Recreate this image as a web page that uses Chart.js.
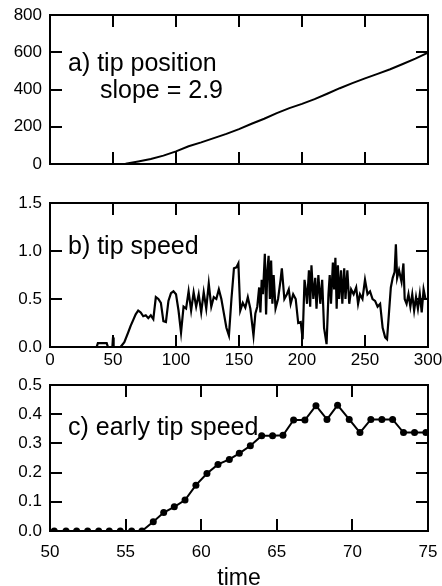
<!DOCTYPE html>
<html>
<head>
<meta charset="utf-8">
<script src="https://cdn.jsdelivr.net/npm/chart.js@4.4.0/dist/chart.umd.min.js"></script>
<style>
  html, body { margin: 0; padding: 0; background: #fff; }
  #wrap { position: relative; width: 442px; height: 586px; overflow: hidden; }
  #wrap canvas { position: absolute; left: 0; }
</style>
</head>
<body>
<div id="wrap">
  <canvas id="cvA" width="442" height="175" style="top:0px"></canvas>
  <canvas id="cvB" width="442" height="192" style="top:180px"></canvas>
  <canvas id="cvC" width="442" height="214" style="top:372px"></canvas>
</div>
<script>
/***** data *****/
// a) tip position vs time
const posTime  = [0, 56, 60, 70, 80, 90, 100, 110, 120, 130, 140, 150, 160, 170, 180, 190, 200, 210, 220, 230, 240, 250, 260, 270, 280, 290, 300];
const posValue = [0, 0, 2, 14, 27, 45, 68, 95, 116, 139, 162, 187, 216, 243, 273, 300, 323, 348, 377, 407, 434, 460, 484, 509, 537, 566, 598];

// b) tip speed vs time
const speedTime = [
  0, 37, 38, 45, 46, 49.5, 50, 50.5, 56, 59, 62, 64, 66, 68, 70, 72, 74, 76, 78, 80,
  82, 84, 86, 88, 90, 92, 94, 96, 98, 100, 102, 104, 106, 108, 110, 112, 114, 116, 118, 120,
  122, 124, 126, 128, 130, 132, 134, 136, 138, 140, 142, 144, 146, 148, 149.5, 151, 153, 155, 157, 159,
  161.5, 163, 164.5, 166, 167, 168, 169, 170.5, 171.5, 172.5, 173.5, 174.5, 175.5, 176.5, 177.5, 179, 181, 183, 184, 186,
  188, 189.5, 191, 193, 195, 197, 199, 200.5, 202, 203, 204, 205.5, 206.5, 207.5, 209, 210.5, 211.5, 213, 214.5, 216,
  217.5, 219.5, 221, 222, 223, 224.5, 225.5, 226.5, 227.5, 228.5, 229.5, 231, 232, 233.5, 234.5, 236, 237.5, 239, 241, 243,
  244.5, 246, 248, 250, 252, 254, 256, 258, 260, 262, 264, 266, 267.5, 269, 270.5, 272, 273.5, 274.5, 275.5, 277,
  279, 280.5, 281.5, 283, 284.5, 286, 287.5, 289, 290.5, 292, 293.5, 295, 296.5, 298, 300
];
const speedValue = [
  0, 0, 0.04, 0.04, 0, 0, 0.1, 0, 0, 0.05, 0.15, 0.22, 0.28, 0.34, 0.38, 0.36, 0.32, 0.33, 0.3, 0.33,
  0.29, 0.52, 0.5, 0.46, 0.27, 0.26, 0.48, 0.56, 0.58, 0.55, 0.38, 0.15, 0.42, 0.4, 0.58, 0.38, 0.57, 0.42, 0.55, 0.36,
  0.57, 0.4, 0.66, 0.42, 0.52, 0.5, 0.6, 0.5, 0.35, 0.2, 0.12, 0.5, 0.82, 0.83, 0.87, 0.38, 0.46, 0.41, 0.52, 0.4,
  0.12, 0.35, 0.42, 0.62, 0.36, 0.7, 0.55, 0.97, 0.34, 0.8, 0.95, 0.5, 0.9, 0.45, 0.75, 0.4, 0.5, 0.7, 0.82, 0.5,
  0.55, 0.6, 0.45, 0.55, 0.5, 0.25, 0.26, 0.08, 0.7, 0.6, 0.45, 0.8, 0.42, 0.85, 0.5, 0.72, 0.4, 0.75, 0.45, 0.7,
  0.2, 0.03, 0.55, 0.75, 0.45, 0.88, 0.6, 0.93, 0.4, 0.85, 0.5, 0.8, 0.45, 0.82, 0.5, 0.8, 0.45, 0.6, 0.55, 0.62,
  0.45, 0.55, 0.5, 0.7, 0.55, 0.58, 0.5, 0.48, 0.42, 0.45, 0.2, 0.1, 0.08, 0.35, 0.62, 0.72, 0.78, 1.07, 0.72, 0.8,
  0.68, 0.87, 0.5, 0.45, 0.55, 0.42, 0.55, 0.38, 0.52, 0.4, 0.55, 0.36, 0.6, 0.5, 0.5
];

// c) early tip speed (sampled points)
const earlyTime = [
  50.28, 51.06, 51.76, 52.49, 53.22, 53.92, 54.65, 55.40, 56.08, 56.83,
  57.52, 58.22, 58.93, 59.65, 60.38, 61.11, 61.86, 62.52, 63.25, 64.00,
  64.72, 65.41, 66.11, 66.86, 67.59, 68.32, 69.02, 69.79, 70.50, 71.22,
  71.95, 72.66, 73.38, 74.11, 74.86
];
const earlySpeed = [
  0, 0, 0, 0, 0, 0, 0, 0, 0, 0.032,
  0.063, 0.083, 0.106, 0.157, 0.197, 0.228, 0.245, 0.266, 0.292, 0.326,
  0.326, 0.328, 0.38, 0.38, 0.429, 0.382, 0.431, 0.382, 0.337, 0.382,
  0.382, 0.382, 0.337, 0.337, 0.337
];

/***** settings *****/
const FONT = "'Liberation Sans', Arial, Helvetica, sans-serif";
const TICK_LEN = 12;
Chart.defaults.font.family = FONT;
Chart.defaults.font.size = 17;
Chart.defaults.color = "#000";

const toXY = (xs, ys) => xs.map((x, i) => ({ x, y: ys[i] }));

// inward tick marks: Chart.js draws them itself when tickLength is negative
const inwardGrid = {
  display: true,
  drawOnChartArea: false,
  drawTicks: true,
  tickLength: -TICK_LEN,
  color: "#000",
  tickColor: "#000",
  tickWidth: 2,
  lineWidth: 2
};

// panel notes, drawn under the data
function notesPlugin(notes){
  return {
    id: "notes",
    beforeDatasetsDraw(chart){
      const ctx = chart.ctx;
      ctx.save();
      ctx.fillStyle = "#000";
      ctx.font = `25px ${FONT}`;
      ctx.textAlign = "left";
      ctx.textBaseline = "alphabetic";
      notes.forEach(n => ctx.fillText(n.text, n.x, n.y));
      ctx.restore();
    }
  };
}

// frame box round the plot area
const framePlugin = {
  id: "frame",
  afterDraw(chart){
    const ctx = chart.ctx;
    const a = chart.chartArea;
    const L = Math.round(a.left), R = Math.round(a.right);
    const T = Math.round(a.top), B = Math.round(a.bottom);
    ctx.save();
    ctx.fillStyle = "#000";
    ctx.fillRect(L - 1, T - 1, R - L + 2, 2);
    ctx.fillRect(L - 1, B - 1, R - L + 2, 2);
    ctx.fillRect(L - 1, T - 1, 2, B - T + 2);
    ctx.fillRect(R - 1, T - 1, 2, B - T + 2);
    ctx.restore();
  }
};

/***** panels *****/
function makePanel(id, cfg){
  const c = document.getElementById(id);
  const xBase = { type: "linear", min: cfg.xMin, max: cfg.xMax };
  const yBase = { type: "linear", min: cfg.yMin, max: cfg.yMax };
  return new Chart(c, {
    type: "line",
    data: {
      datasets: [{
        data: cfg.data,
        borderColor: "#000",
        backgroundColor: "#000",
        borderWidth: cfg.lineWidth || 2,
        pointRadius: cfg.pointRadius || 0,
        pointBorderWidth: 0,
        tension: 0
      }]
    },
    options: {
      responsive: false,
      animation: false,
      devicePixelRatio: 1,
      layout: { padding: { top: cfg.padTop, right: 14, left: 0, bottom: 0 } },
      scales: {
        x: {
          ...xBase,
          position: "bottom",
          grid: inwardGrid,
          border: { display: false },
          ticks: {
            display: cfg.xLabels,
            stepSize: cfg.xStep,
            autoSkip: false,
            maxRotation: 0,
            padding: (cfg.xPad || 0) + TICK_LEN
          },
          title: cfg.xTitle
            ? { display: true, text: cfg.xTitle, font: { size: 23 }, padding: { top: 0, bottom: -6 } }
            : { display: false },
          afterFit(s){ s.height = cfg.xHeight; s.paddingLeft = 0; s.paddingRight = 0; }
        },
        xTop: {
          ...xBase,
          axis: "x",
          position: "top",
          grid: inwardGrid,
          border: { display: false },
          ticks: { display: false, stepSize: cfg.xStep, autoSkip: false, maxRotation: 0 },
          afterFit(s){ s.height = 0; s.paddingLeft = 0; s.paddingRight = 0; }
        },
        y: {
          ...yBase,
          position: "left",
          grid: inwardGrid,
          border: { display: false },
          ticks: { stepSize: cfg.yStep, padding: 8 + TICK_LEN, callback: cfg.yFmt },
          afterFit(s){ s.width = 50; s.paddingTop = 0; s.paddingBottom = 0; }
        },
        yRight: {
          ...yBase,
          axis: "y",
          position: "right",
          grid: inwardGrid,
          border: { display: false },
          ticks: { display: false, stepSize: cfg.yStep },
          afterFit(s){ s.width = 0; s.paddingTop = 0; s.paddingBottom = 0; }
        }
      },
      plugins: {
        legend: { display: false },
        tooltip: { enabled: false }
      }
    },
    plugins: [notesPlugin(cfg.notes), framePlugin]
  });
}

makePanel("cvA", {
  data: toXY(posTime, posValue),
  xMin: 0, xMax: 300, xStep: 50, xLabels: false, xHeight: 11,
  yMin: 0, yMax: 800, yStep: 200, yFmt: v => String(v),
  padTop: 15,
  notes: [ { text: "a) tip position", x: 68, y: 71 }, { text: "slope = 2.9", x: 100, y: 98 } ]
});

makePanel("cvB", {
  data: toXY(speedTime, speedValue),
  lineWidth: 2.2,
  xMin: 0, xMax: 300, xStep: 50, xLabels: true, xPad: 3, xHeight: 25,
  yMin: 0, yMax: 1.5, yStep: 0.5, yFmt: v => v.toFixed(1),
  padTop: 23,
  notes: [ { text: "b) tip speed", x: 68, y: 74 } ]
});

makePanel("cvC", {
  data: toXY(earlyTime, earlySpeed),
  pointRadius: 3.5,
  xMin: 50, xMax: 75, xStep: 5, xLabels: true, xPad: 11, xHeight: 55, xTitle: "time",
  yMin: 0, yMax: 0.5, yStep: 0.1, yFmt: v => v.toFixed(1),
  padTop: 13,
  notes: [ { text: "c) early tip speed", x: 68, y: 63 } ]
});
</script>
</body>
</html>
